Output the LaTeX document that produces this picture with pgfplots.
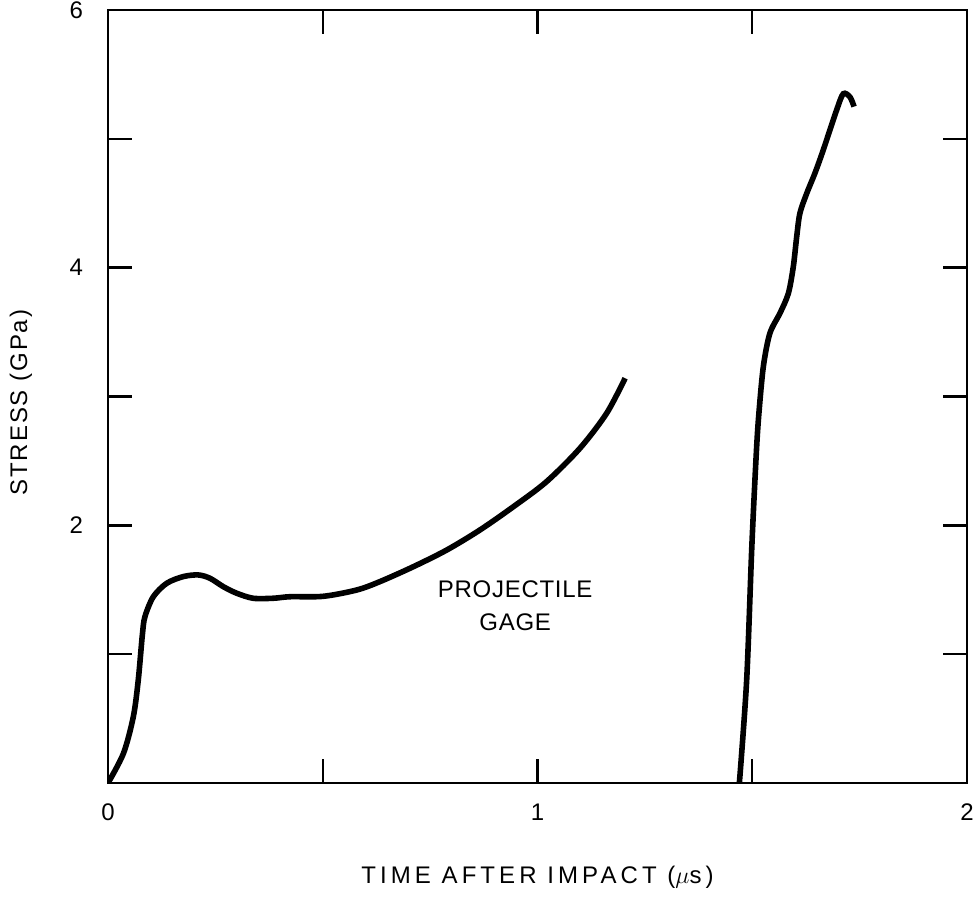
\documentclass[border=0pt]{standalone}
\usepackage{fontspec}
\setmainfont{Liberation Sans}
\usepackage{pgfplots}
\pgfplotsset{compat=1.18}
\usetikzlibrary{calc}
\begin{document}
\begin{tikzpicture}
\begin{axis}[
  scale only axis,
  width=429.5pt, height=386.5pt,
  xmin=0, xmax=2, ymin=0, ymax=6,
  xtick={0,0.5,1,1.5,2}, xticklabels={0,,1,,2},
  ytick={1,2,3,4,5,6}, yticklabels={,2,,4,,6},
  tick align=inside,
  major tick length=12pt,
  tick style={line width=1.2pt, black},
  axis line style={line width=1.3pt},
  tick label style={font=\fontsize{12}{14}\selectfont},
  xticklabel shift=7pt,
  yticklabel shift=9pt,
  xlabel={TIME AFTER IMPACT ($\mu$s)},
  ylabel={STRESS (GPa)},
  xlabel style={at={(axis description cs:0.5,-0.1216)}, anchor=center,
    font=\fontsize{12}{14}\selectfont\addfontfeatures{LetterSpace=17}},
  ylabel style={at={(axis description cs:-0.1013,0.492)}, anchor=center,
    font=\fontsize{12}{14}\selectfont\addfontfeatures{LetterSpace=8}},
]
\addplot[black, line width=2.8pt, smooth, tension=0.5] coordinates {
(0,0) (0.036,0.23) (0.059,0.515) (0.0705,0.80) (0.080,1.15) (0.086,1.291)
(0.1055,1.446) (0.1366,1.55) (0.175,1.602) (0.210,1.615) (0.2375,1.589)
(0.2685,1.524) (0.2997,1.473) (0.338,1.434) (0.385,1.434) (0.424,1.446)
(0.501,1.449) (0.579,1.498)
(0.633,1.563) (0.711,1.679) (0.789,1.809) (0.866,1.964) (0.944,2.145)
(1.021,2.339) (1.099,2.599) (1.161,2.870) (1.204,3.142)
};
\addplot[black, line width=2.8pt, smooth, tension=0.5] coordinates {
(1.470,0) (1.487,0.80) (1.499,1.835) (1.509,2.533) (1.515,2.85) (1.5258,3.232)
(1.541,3.49) (1.5646,3.647) (1.584,3.80) (1.5956,4.008) (1.6035,4.241)
(1.611,4.423) (1.627,4.578) (1.646,4.734) (1.6655,4.915) (1.6966,5.225)
(1.712,5.35) (1.7276,5.324) (1.737,5.25)
};
\node[align=center, font=\fontsize{12}{16.5}\selectfont\addfontfeatures{LetterSpace=3}] at (axis cs:0.948,1.378) {PROJECTILE\\GAGE};
\end{axis}
\pgfresetboundingbox
\path ($(current axis.south west)+(-54pt,-58.5pt)$) rectangle ($(current axis.north east)+(5.5pt,5pt)$);
\end{tikzpicture}
\end{document}
